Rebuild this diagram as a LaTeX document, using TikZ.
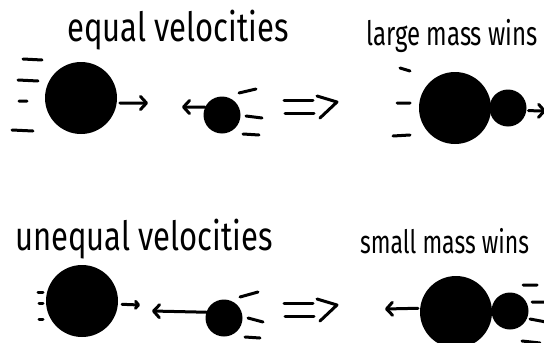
\documentclass[tikz,border=0pt]{standalone}
\usepackage{fontspec}
\setmainfont{Fira Sans}
\usetikzlibrary{positioning, arrows.meta, calc}

\begin{document}
\begin{tikzpicture}[x=1pt, y=-1pt,
    bigball/.style={circle, fill=black, inner sep=0pt, minimum size=72pt},
    smallball/.style={circle, fill=black, inner sep=0pt, minimum size=37pt},
    speedline/.style={line width=3pt, line cap=round},
    arr/.style={speedline, -{Straight Barb[round, length=6pt, width=13pt]}},
    heading/.style={anchor=base west, inner sep=0pt}]
  \useasboundingbox (0,0) rectangle (544,343);

  % headings
  \node[heading, font=\fontsize{31}{31}\selectfont] (h1) at (67,41) {\scalebox{1}[1.3]{equal velocities}};
  \node[heading, font=\fontsize{24}{24}\selectfont] (h2) at (366,45) {\scalebox{1}[1.4]{large mass wins}};
  \node[heading, font=\fontsize{31}{31}\selectfont] (h3) at (15,250) {\scalebox{1}[1.3]{unequal velocities}};
  \node[heading, font=\fontsize{23}{23}\selectfont] (h4) at (360,253) {\scalebox{1}[1.4]{small mass wins}};

  % balls
  \node[bigball] (b1) at (81,98) {};
  \node[smallball] (s1) at (222,115) {};
  \node[bigball] (b2) at (455,108) {};
  \node[smallball] (s2) at (508,108) {};
  \node[bigball] (b3) at (82,301) {};
  \node[smallball] (s3) at (224,318) {};
  \node[bigball] (b4) at (456,312) {};
  \node[smallball] (s4) at (510,311) {};

  % arrow ends
  \coordinate (t1) at (148,103);
  \coordinate (t2) at (182,107);
  \coordinate (t3) at (546,111);
  \coordinate (t4) at (140,305);
  \coordinate (t5) at (152,311);
  \coordinate (t6) at (385,309);

  \draw[arr, shorten <=3pt] (b1.-8) -- (t1);
  \draw[arr] (s1.155) -- (t2);
  \draw[arr, shorten <=2pt] (s2.-8) -- (t3);
  \draw[arr, shorten <=4pt, -{Straight Barb[round, length=3pt, width=7pt]}] (b3.-5) -- (t4);
  \draw[arr] (s3.162) -- (t5);
  \draw[arr, shorten <=2pt] (b4.174) -- (t6);

  % speed lines
  \draw[speedline] (23,59) -- (42,60) (18,80) -- (38,81) (19,101) -- (27,101) (12,130) -- (33,131);
  \draw[speedline] (239,93) -- (256,89) (246,116) -- (262,118) (243,134) -- (259,135);
  \draw[speedline] (400,68) -- (410,71) (397,103) -- (410,103) (393,136) -- (410,135);
  \draw[speedline] (38,292) -- (43,292) (39,303) -- (43,303) (39,319) -- (43,319);
  \draw[speedline] (240,297) -- (258,292) (248,318) -- (263,322) (245,337) -- (260,338);
  \draw[speedline] (523,285) -- (537,285) (532,302) -- (546,302) (530,319) -- (546,322) (522,341) -- (540,343);

  % implies
  \foreach \y in {0,203} {
    \draw[speedline] (284,100+\y) -- (313,100+\y) (285,113+\y) -- (314,113+\y);
    \draw[speedline, line join=round] (317,96+\y) -- (337,102+\y) -- (320,118+\y);
  }
\end{tikzpicture}
\end{document}
